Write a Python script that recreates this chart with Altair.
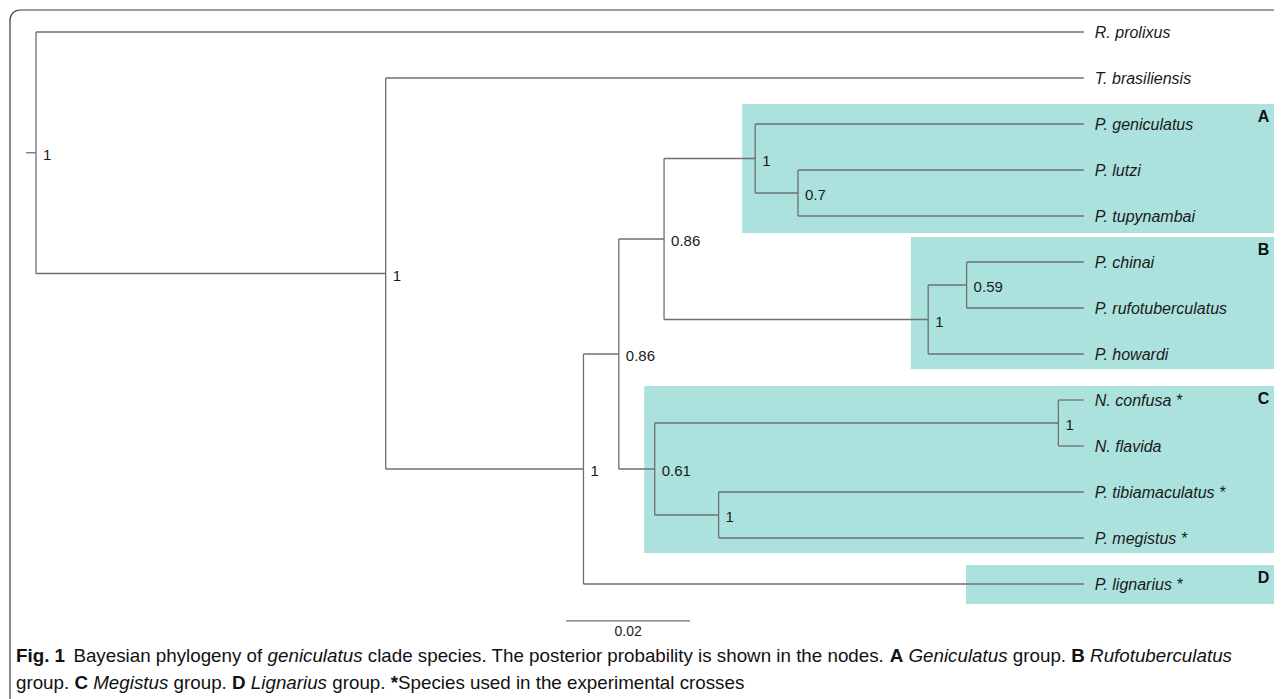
import altair as alt
import pandas as pd

# ---------------- data ----------------
tip_names = ["R. prolixus", "T. brasiliensis", "P. geniculatus", "P. lutzi",
             "P. tupynambai", "P. chinai", "P. rufotuberculatus", "P. howardi",
             "N. confusa *", "N. flavida", "P. tibiamaculatus *", "P. megistus *",
             "P. lignarius *"]
tip_parent = ["root", "n1", "nA", "nA2", "nA2", "nB2", "nB2", "nB",
              "nC1", "nC1", "nC2", "nC2", "n2"]
tip_depth = [0.169, 0.169, 0.169, 0.169, 0.169, 0.169, 0.169, 0.169,
             0.169, 0.169, 0.169, 0.169, 0.169]

node_names = ["root", "n1", "n2", "n3", "n4", "nA", "nA2", "nB", "nB2", "nC", "nC1", "nC2"]
node_parent = ["", "root", "n1", "n2", "n3", "n4", "nA", "n4", "nB", "n3", "nC", "nC"]
node_depth = [0.0, 0.0564, 0.0883, 0.0940, 0.1013, 0.1160, 0.1229, 0.1439, 0.1501,
              0.0998, 0.1649, 0.1101]
node_support = ["1", "1", "1", "0.86", "0.86", "1", "0.7", "1", "0.59", "0.61", "1", "1"]
root_stub = -0.0016

box_letter = ["A", "B", "C", "D"]
box_left = [0.1139, 0.1411, 0.0981, 0.1500]
box_top = [1.565, 4.456, 7.696, 11.587]
box_bottom = [4.37, 7.326, 11.326, 12.435]
letter_x = 0.198

scalebar_start = 0.0855
scalebar_len = 0.02
scalebar_row = 12.8

caption_line1 = [("Fig. 1", "b", 0.0), ("Bayesian phylogeny of", "r", 1.6),
                 ("geniculatus", "i", 1.0), ("clade species. The posterior probability is shown in the nodes.", "r", 1.0),
                 ("A", "b", 1.0), ("Geniculatus", "i", 1.0), ("group.", "r", 1.0),
                 ("B", "b", 1.0), ("Rufotuberculatus", "i", 1.0)]
caption_line2 = [("group.", "r", 0.0), ("C", "b", 1.0), ("Megistus", "i", 1.0), ("group.", "r", 1.0),
                 ("D", "b", 1.0), ("Lignarius", "i", 1.0), ("group.", "r", 1.0),
                 ("*", "b", 1.0), ("Species used in the experimental crosses", "r", 0.0)]

# ---------------- layout ----------------
W, H = 1266, 691
PX_PER_UNIT = 6200.0
X0 = 28.0
ROW_PX = 46.0
Y0 = 24.0
xdom = [-X0 / PX_PER_UNIT, (W - X0) / PX_PER_UNIT]
ydom = [-Y0 / ROW_PX, (H - Y0) / ROW_PX]
XS = alt.Scale(domain=xdom, nice=False, zero=False)
YS = alt.Scale(domain=ydom, nice=False, zero=False, reverse=True)

FONT = "Liberation Sans"
LINE = "#6f6f6f"
TEXT = "#1a1a1a"
BOX = "#abe2dd"

parent = dict(zip(tip_names, tip_parent))
parent.update({n: p for n, p in zip(node_names, node_parent) if p})
depth = dict(zip(tip_names, tip_depth))
depth.update(dict(zip(node_names, node_depth)))
children = {n: [] for n in node_names}
for c, p in parent.items():
    children[p].append(c)
ypos = {t: float(i) for i, t in enumerate(tip_names)}


def gety(n):
    if n not in ypos:
        ys = [gety(c) for c in children[n]]
        ypos[n] = sum(ys) / len(ys)
    return ypos[n]


for n in node_names:
    gety(n)

edges = []
for c, p in parent.items():
    edges.append(dict(x=depth[p], x2=depth[c], y=ypos[c], y2=ypos[c]))
for n in node_names:
    ys = [ypos[c] for c in children[n]]
    edges.append(dict(x=depth[n], x2=depth[n], y=min(ys), y2=max(ys)))
edges.append(dict(x=root_stub, x2=0.0, y=ypos["root"], y2=ypos["root"]))
edges_df = pd.DataFrame(edges)

tips_df = pd.DataFrame(dict(name=tip_names, x=tip_depth, y=[ypos[t] for t in tip_names]))
nodes_df = pd.DataFrame(dict(label=node_support, x=node_depth, y=[ypos[n] for n in node_names]))
boxes_df = pd.DataFrame(dict(letter=box_letter, left=box_left, top=box_top, bottom=box_bottom,
                             lx=[letter_x] * 4))
bar_df = pd.DataFrame(dict(x=[scalebar_start], x2=[scalebar_start + scalebar_len],
                           y=[scalebar_row], label=["0.02"],
                           xm=[scalebar_start + scalebar_len / 2]))

# caption runs (Arial / Liberation Sans metrics, per 1000 em)
REG = {' ': 278, '*': 389, ',': 278, '.': 278, '1': 556,
       'A': 667, 'B': 667, 'C': 722, 'D': 722, 'F': 611, 'G': 778, 'L': 556, 'M': 833,
       'R': 722, 'S': 667, 'T': 611,
       'a': 556, 'b': 556, 'c': 500, 'd': 556, 'e': 556, 'f': 278, 'g': 556, 'h': 556,
       'i': 222, 'j': 222, 'k': 500, 'l': 222, 'm': 833, 'n': 556, 'o': 556, 'p': 556,
       'q': 556, 'r': 333, 's': 500, 't': 278, 'u': 556, 'v': 500, 'w': 722, 'x': 500,
       'y': 500, 'z': 500}
BOLD = {' ': 278, '.': 278, '1': 556, '*': 389, 'A': 722, 'B': 722, 'C': 722, 'D': 722,
        'F': 611, 'i': 278, 'g': 611}


def tw(s, style):
    tab = BOLD if style == "b" else REG
    return sum(tab.get(ch, 556) for ch in s) / 1000.0


line1_em = sum(tw(t, s) + g * 0.278 for t, s, g in caption_line1)
CAP_SIZE = round(1216.0 / line1_em, 2)

runs = []
for line, base in ((caption_line1, 654.0), (caption_line2, 681.0)):
    cur = 8.0
    for t, s, g in line:
        cur += g * 0.278 * CAP_SIZE
        runs.append(dict(text=t, style=s, px=cur, py=base))
        cur += tw(t, s) * CAP_SIZE
runs_df = pd.DataFrame(runs)

# ---------------- chart ----------------
frame = alt.Chart(pd.DataFrame({"a": [0]})).mark_rect(
    fillOpacity=0, stroke="#3c3c3c", strokeWidth=1.2, cornerRadius=10
).encode(x=alt.value(2), x2=alt.value(W + 60), y=alt.value(2), y2=alt.value(H + 60))

boxes = alt.Chart(boxes_df).mark_rect(color=BOX).encode(
    x=alt.X("left:Q", scale=XS, axis=None), x2=alt.value(W),
    y=alt.Y("top:Q", scale=YS, axis=None), y2="bottom:Q")

letters = alt.Chart(boxes_df).mark_text(
    font=FONT, fontSize=16, fontWeight="bold", color="#111", align="center",
    baseline="middle", dy=13
).encode(x=alt.X("lx:Q", scale=XS, axis=None), y=alt.Y("top:Q", scale=YS, axis=None),
         text="letter:N")

branches = alt.Chart(edges_df).mark_rule(color=LINE, strokeWidth=1.3).encode(
    x=alt.X("x:Q", scale=XS, axis=None), x2="x2:Q",
    y=alt.Y("y:Q", scale=YS, axis=None), y2="y2:Q")

tip_labels = alt.Chart(tips_df).mark_text(
    font=FONT, fontSize=16, fontStyle="italic", color=TEXT, align="left",
    baseline="middle", dx=11, dy=1
).encode(x=alt.X("x:Q", scale=XS, axis=None), y=alt.Y("y:Q", scale=YS, axis=None),
         text="name:N")

node_labels = alt.Chart(nodes_df).mark_text(
    font=FONT, fontSize=15, color=TEXT, align="left", baseline="middle", dx=7, dy=2
).encode(x=alt.X("x:Q", scale=XS, axis=None), y=alt.Y("y:Q", scale=YS, axis=None),
         text="label:N")

bar = alt.Chart(bar_df).mark_rule(color=LINE, strokeWidth=1.3).encode(
    x=alt.X("x:Q", scale=XS, axis=None), x2="x2:Q",
    y=alt.Y("y:Q", scale=YS, axis=None))
bar_label = alt.Chart(bar_df).mark_text(
    font=FONT, fontSize=14, color=TEXT, align="center", baseline="middle", dy=11
).encode(x=alt.X("xm:Q", scale=XS, axis=None), y=alt.Y("y:Q", scale=YS, axis=None),
         text="label:N")


def cap_layer(style, **kw):
    return alt.Chart(runs_df).transform_filter(
        alt.datum.style == style
    ).mark_text(font=FONT, fontSize=CAP_SIZE, color="#111", align="left",
                baseline="alphabetic", **kw).encode(
        x=alt.X("px:Q", scale=None, axis=None), y=alt.Y("py:Q", scale=None, axis=None),
        text="text:N")


cap_r = cap_layer("r")
cap_b = cap_layer("b", fontWeight="bold")
cap_i = cap_layer("i", fontStyle="italic")

chart = alt.layer(
    boxes, frame, branches, tip_labels, node_labels, letters, bar, bar_label,
    cap_r, cap_b, cap_i
).resolve_scale(x="independent", y="independent").properties(
    width=W, height=H, padding=0,
    autosize=alt.AutoSizeParams(type="none"),
    background="white"
).configure_view(strokeWidth=0)

chart.save("out.html", embed_options={"renderer": "svg", "actions": False})
